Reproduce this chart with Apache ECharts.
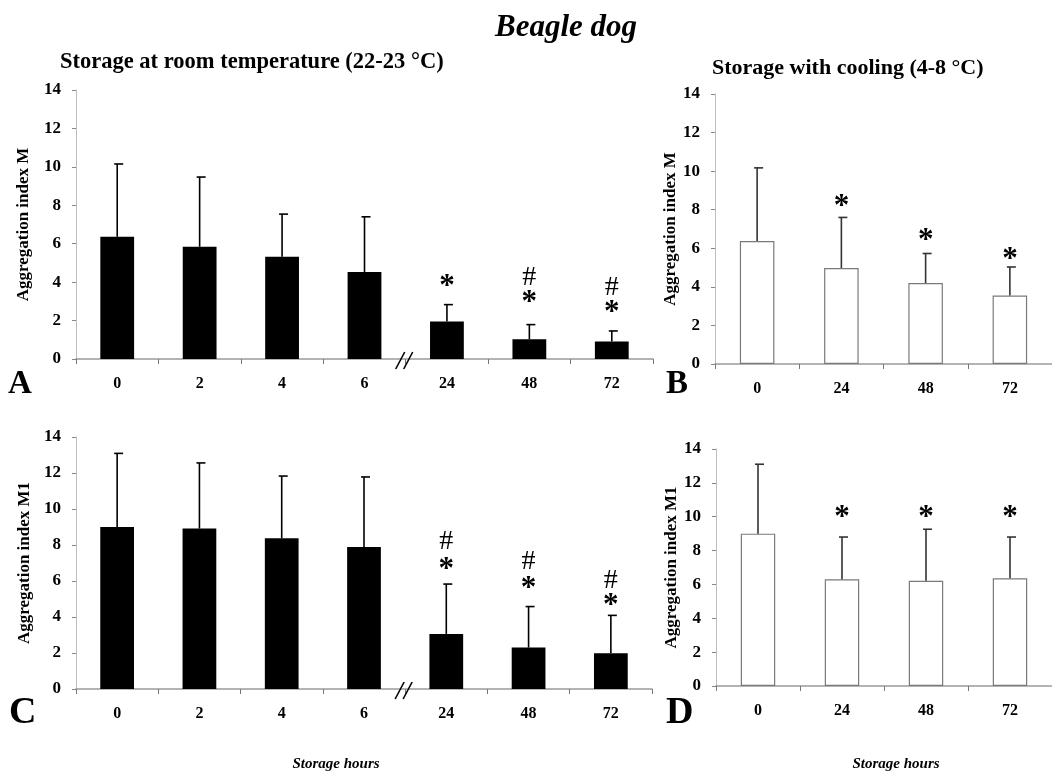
<!DOCTYPE html>
<html>
<head>
<meta charset="utf-8">
<script src="https://cdn.jsdelivr.net/npm/echarts@6/dist/echarts.min.js"></script>
<style>html,body{margin:0;padding:0;background:#fff}#c{width:1052px;height:776px}</style>
</head>
<body>
<div id="c"></div>
<script>
// ---- data ----
const catsRoom = ['0', '2', '4', '6', '24', '48', '72'];
const catsCool = ['0', '24', '48', '72'];
const yTicks = [0, 2, 4, 6, 8, 10, 12, 14];

const meanA = [6.36, 5.84, 5.32, 4.53, 1.95, 1.03, 0.91];
const upperA = [10.15, 9.47, 7.54, 7.40, 2.83, 1.79, 1.46];
const meanB = [6.38, 4.98, 4.2, 3.55];
const upperB = [10.17, 7.6, 5.73, 5.03];
const meanC = [9.0, 8.91, 8.37, 7.89, 3.06, 2.3, 1.98];
const upperC = [13.09, 12.56, 11.83, 11.78, 5.83, 4.58, 4.09];
const meanD = [9.0, 6.3, 6.22, 6.36];
const upperD = [13.1, 8.8, 9.26, 8.8];

// significance marks: [category index, y value, symbol]
const marksA = [[4, 4.05, '*'], [5, 4.24, '#'], [5, 3.23, '*'], [6, 3.72, '#'], [6, 2.71, '*']];
const marksB = [[1, 8.46, '*'], [2, 6.68, '*'], [3, 5.73, '*']];
const marksC = [[4, 8.17, '#'], [4, 6.96, '*'], [5, 7.06, '#'], [5, 5.89, '*'], [6, 6.04, '#'], [6, 4.93, '*']];
const marksD = [[1, 10.3, '*'], [2, 10.3, '*'], [3, 10.3, '*']];

const yNameM = 'Aggregation index M';
const yNameM1 = 'Aggregation index M1';
const mainTitle = 'Beagle dog';
const titleRoom = 'Storage at room temperature (22-23 °C)';
const titleCool = 'Storage with cooling (4-8 °C)';
const xTitle = 'Storage hours';

// ---- chart ----
const FONT = '"Liberation Serif", "Times New Roman", serif';
const chart = echarts.init(document.getElementById('c'));

const grids = [
  {left: 76, top: 90, width: 577, height: 269},
  {left: 715, top: 94, width: 342, height: 270},
  {left: 76, top: 437, width: 576, height: 252},
  {left: 716, top: 449, width: 342, height: 237}
];

function xAxisDef(i, cats) {
  return {
    type: 'category', gridIndex: i, data: cats,
    axisLine: {lineStyle: {color: '#9a9a9a', width: 1.5}},
    axisTick: {show: true, length: 5, lineStyle: {color: '#777'}},
    axisLabel: {fontFamily: FONT, fontWeight: 'bold', fontSize: 16, color: '#000', margin: 17}
  };
}
function yAxisDef(i, name, gap) {
  return {
    type: 'value', gridIndex: i, min: 0, max: 14, interval: 2,
    name: name, nameLocation: 'middle', nameGap: gap,
    nameTextStyle: {fontFamily: FONT, fontWeight: 'bold', fontSize: 17, color: '#000'},
    axisLine: {show: true, lineStyle: {color: '#bdbdbd', width: 1}},
    axisTick: {show: true, length: 4, lineStyle: {color: '#888'}},
    splitLine: {show: false},
    axisLabel: {fontFamily: FONT, fontWeight: 'bold', fontSize: 17, color: '#000', margin: 15,
      formatter: v => (yTicks.indexOf(v) >= 0 ? String(v) : '')}
  };
}

function errSeries(i, mean, upper, color) {
  return {
    type: 'custom', xAxisIndex: i, yAxisIndex: i, z: 5, clip: false,
    data: mean.map((m, k) => [k, m, upper[k]]),
    renderItem: function (params, api) {
      const p0 = api.coord([api.value(0), api.value(1)]);
      const p1 = api.coord([api.value(0), api.value(2)]);
      return {type: 'group', children: [
        {type: 'line', shape: {x1: p0[0], y1: p0[1], x2: p1[0], y2: p1[1]}, style: {stroke: color, lineWidth: 1.6}},
        {type: 'line', shape: {x1: p1[0] - 3, y1: p1[1], x2: p1[0] + 6, y2: p1[1]}, style: {stroke: color, lineWidth: 1.6}}
      ]};
    }
  };
}
function markSeries(i, marks) {
  return {
    type: 'custom', xAxisIndex: i, yAxisIndex: i, z: 6, clip: false,
    data: marks,
    renderItem: function (params, api) {
      const sym = marks[params.dataIndex][2];
      const p = api.coord([api.value(0), api.value(1)]);
      const star = sym === '*';
      return {type: 'text', x: p[0], y: p[1] + (star ? 6 : 0), style: {
        text: sym, align: 'center', verticalAlign: 'middle',
        font: (star ? 'bold 31px ' : '28px ') + FONT, fill: '#000'
      }};
    }
  };
}
function barSeries(i, mean, filled) {
  return {
    type: 'bar', xAxisIndex: i, yAxisIndex: i, data: mean, barWidth: '41%',
    itemStyle: filled ? {color: '#000'} : {color: '#fff', borderColor: '#7a7a7a', borderWidth: 1.2},
    emphasis: {disabled: true}
  };
}

const option = {
  animation: false,
  backgroundColor: '#fff',
  grid: grids,
  xAxis: [xAxisDef(0, catsRoom), xAxisDef(1, catsCool), xAxisDef(2, catsRoom), xAxisDef(3, catsCool)],
  yAxis: [yAxisDef(0, yNameM, 44), yAxisDef(1, yNameM, 35), yAxisDef(2, yNameM1, 36), yAxisDef(3, yNameM1, 35)],
  series: [
    barSeries(0, meanA, true), errSeries(0, meanA, upperA, '#000'), markSeries(0, marksA),
    barSeries(1, meanB, false), errSeries(1, meanB, upperB, '#333'), markSeries(1, marksB),
    barSeries(2, meanC, true), errSeries(2, meanC, upperC, '#000'), markSeries(2, marksC),
    barSeries(3, meanD, false), errSeries(3, meanD, upperD, '#333'), markSeries(3, marksD)
  ]
};
chart.setOption(option);

// titles, panel letters and axis-break marks
function breakMark(gi) {
  const a = chart.convertToPixel({xAxisIndex: gi, yAxisIndex: gi}, [3, 0]);
  const b = chart.convertToPixel({xAxisIndex: gi, yAxisIndex: gi}, [4, 0]);
  const cx = (a[0] + b[0]) / 2, cy = a[1] + 1;
  return [
    {type: 'line', shape: {x1: cx - 10, y1: cy + 9, x2: cx - 1, y2: cy - 8}, style: {stroke: '#000', lineWidth: 1.6}, z: 20},
    {type: 'line', shape: {x1: cx - 2, y1: cy + 9, x2: cx + 7, y2: cy - 8}, style: {stroke: '#000', lineWidth: 1.6}, z: 20}
  ];
}
function txt(x, y, text, font, align) {
  return {type: 'text', x: x, y: y, z: 20, style: {text: text, font: font + ' ' + FONT, fill: '#000', align: align || 'left', verticalAlign: 'middle'}};
}
chart.setOption({graphic: [
  txt(566, 28, mainTitle, 'italic bold 31px', 'center'),
  txt(60, 62, titleRoom, 'bold 22.5px'),
  txt(712, 68, titleCool, 'bold 22px'),
  txt(8, 384, 'A', 'bold 33px'),
  txt(666, 384, 'B', 'bold 33px'),
  txt(9, 713, 'C', 'bold 38px'),
  txt(666, 713, 'D', 'bold 38px'),
  txt(336, 764, xTitle, 'italic bold 15px', 'center'),
  txt(896, 764, xTitle, 'italic bold 15px', 'center')
].concat(breakMark(0), breakMark(2))});
</script>
</body>
</html>
